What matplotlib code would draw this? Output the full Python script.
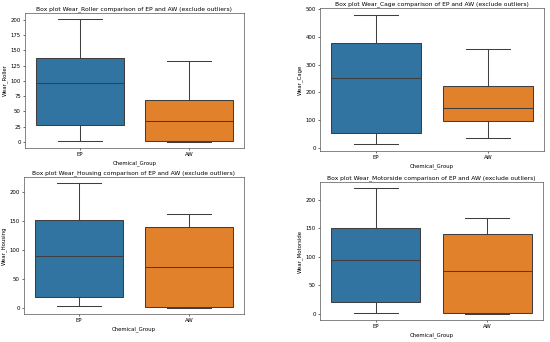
import matplotlib
matplotlib.use('Agg')
import matplotlib.pyplot as plt

# Datos (sin outliers)
groups = ['EP', 'AW']
variables = ['Wear_Roller', 'Wear_Cage', 'Wear_Housing', 'Wear_Motorside']

# [whislo, q1, med, q3, whishi] por grupo
roller = [[2, 28, 96, 137, 201], [0, 1, 34, 69, 132]]
cage = [[12, 55, 253, 378, 481], [35, 95, 145, 222, 357]]
housing = [[3, 19, 89, 153, 216], [0, 1, 70, 140, 162]]
motorside = [[2, 20, 95, 150, 220], [0, 1, 75, 140, 168]]

colors = ['#3274a1', '#e1812c']
line_color = '#3f3f3f'

plt.rcParams['font.family'] = 'DejaVu Sans'
plt.rcParams['font.size'] = 3.9

fig = plt.figure(figsize=(5.5, 3.42), dpi=100)
fig.patch.set_facecolor('white')

positions = [
    [0.0455, 0.567, 0.398, 0.395],
    [0.582, 0.5585, 0.407, 0.418],
    [0.0436, 0.0819, 0.400, 0.4006],
    [0.582, 0.0643, 0.405, 0.4035],
]

for name, data, pos in zip(variables, [roller, cage, housing, motorside], positions):
    ax = fig.add_axes(pos)
    stats = []
    for g, v in zip(groups, data):
        stats.append({'label': g, 'whislo': v[0], 'q1': v[1], 'med': v[2],
                      'q3': v[3], 'whishi': v[4], 'fliers': []})
    lw = 0.75
    bp = ax.bxp(stats, positions=[0, 1], widths=0.8, capwidths=0.4,
                patch_artist=True, showfliers=False,
                boxprops=dict(edgecolor=line_color, linewidth=lw),
                medianprops=dict(color=line_color, linewidth=lw),
                whiskerprops=dict(color=line_color, linewidth=lw),
                capprops=dict(color=line_color, linewidth=lw))
    for patch, c in zip(bp['boxes'], colors):
        patch.set_facecolor(c)
    ax.set_xlim(-0.5, 1.5)
    ax.margins(y=0.05)
    ax.set_xticks([0, 1])
    ax.set_xticklabels(groups)
    ax.set_xlabel('Chemical_Group', labelpad=2)
    ax.set_ylabel(name, labelpad=2)
    ax.set_title(f'Box plot {name} comparison of EP and AW (exclude outliers)',
                 fontsize=4.3, pad=2)
    ax.tick_params(length=1.5, width=0.4, pad=1.5)
    for s in ax.spines.values():
        s.set_linewidth(0.5)
        s.set_color('#555555')

plt.savefig('out.png', dpi=100, facecolor='white')
